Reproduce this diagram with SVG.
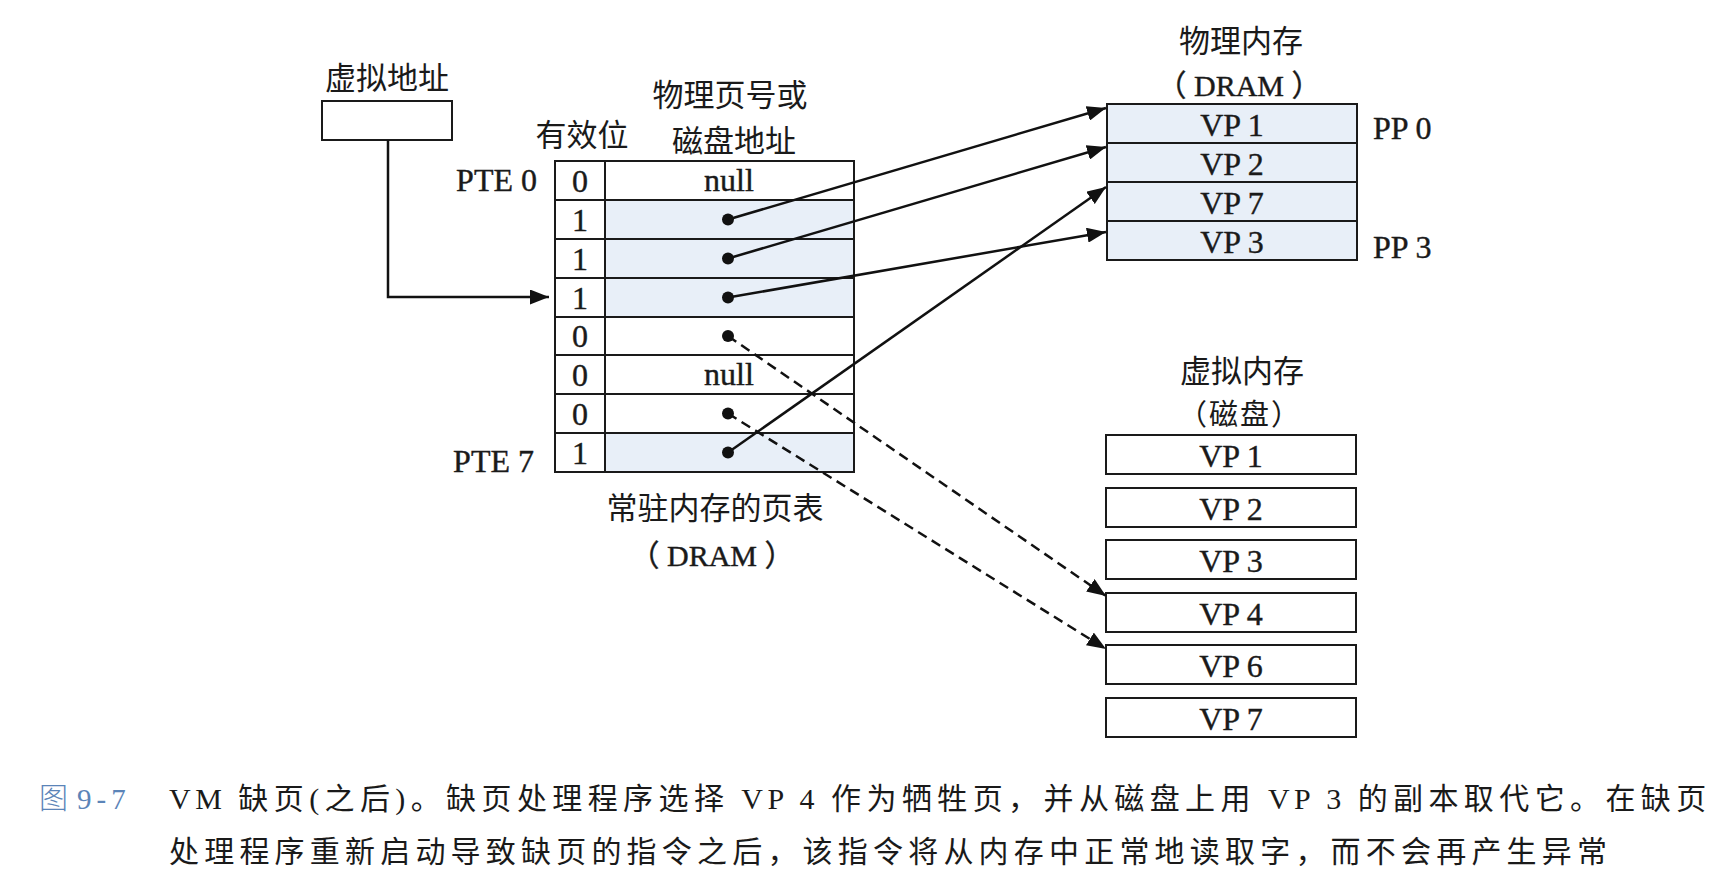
<svg xmlns="http://www.w3.org/2000/svg" width="1736" height="878" viewBox="0 0 1736 878">
<style>
  .bg{fill:#ffffff}
  .box{fill:#ffffff;stroke:#1a1a1a;stroke-width:2}
  .shade{fill:#e8eff8;stroke:none}
  .pbox{fill:#e8eff8;stroke:#1a1a1a;stroke-width:2}
  .grid{stroke:#1a1a1a;stroke-width:2;fill:none}
  .cjk{font-family:"Noto Sans CJK SC","Noto Sans CJK JP",sans-serif;font-size:31px;fill:#1a1a1a}
  .lat{font-family:"Liberation Serif","Noto Sans CJK SC",serif;font-size:32px;fill:#1a1a1a;stroke:#1a1a1a;stroke-width:0.4}
  .mid{text-anchor:middle}
  .end{text-anchor:end}
  .cap{font-family:"Liberation Serif","Noto Sans CJK SC",serif;font-size:30px;fill:#1a1a1a;letter-spacing:5.4px}
  .capl{letter-spacing:4.5px}
  .capn{font-family:"Liberation Serif","Noto Sans CJK SC",serif;font-size:29px;fill:#5b84b8}
  .conn{stroke:#111;stroke-width:2.5;fill:none}
  .dash{stroke:#111;stroke-width:2.5;fill:none;stroke-dasharray:10 6}
  .dot{fill:#111}
</style>
<defs>
  <marker id="ah" markerUnits="userSpaceOnUse" markerWidth="20" markerHeight="15" refX="19" refY="7.5" orient="auto">
    <path d="M0,0 L19,7.5 L0,15 z" fill="#111"/>
  </marker>
</defs>
<rect class="bg" x="0" y="0" width="1736" height="878"/>

<g id="virtual-address">
  <text class="cjk mid" x="387" y="89">虚拟地址</text>
  <rect class="box" x="322" y="101" width="130" height="39"/>
</g>

<g id="page-table">
  <text class="cjk mid" x="582" y="146">有效位</text>
  <text class="cjk mid" x="730" y="106">物理页号或</text>
  <text class="cjk mid" x="734" y="152">磁盘地址</text>
  <rect class="shade" x="605" y="200" width="249" height="117"/>
  <rect class="shade" x="605" y="433" width="249" height="39"/>
  <rect class="grid" x="555" y="161" width="299" height="311"/>
  <path class="grid" d="M605,161 V472 M555,200 H854 M555,239 H854 M555,278 H854 M555,317 H854 M555,355 H854 M555,394 H854 M555,433 H854"/>
  <text class="lat end" x="537" y="191">PTE 0</text>
  <text class="lat end" x="534" y="472">PTE 7</text>
  <text class="lat mid" x="580" y="192">0</text>
  <text class="lat mid" x="580" y="231">1</text>
  <text class="lat mid" x="580" y="270">1</text>
  <text class="lat mid" x="580" y="309">1</text>
  <text class="lat mid" x="580" y="347">0</text>
  <text class="lat mid" x="580" y="386">0</text>
  <text class="lat mid" x="580" y="425">0</text>
  <text class="lat mid" x="580" y="464">1</text>
  <text class="lat mid" x="729" y="191">null</text>
  <text class="lat mid" x="729" y="385">null</text>
  <circle class="dot" cx="728" cy="219.5" r="6"/>
  <circle class="dot" cx="728" cy="258.5" r="6"/>
  <circle class="dot" cx="728" cy="297.5" r="6"/>
  <circle class="dot" cx="728" cy="336" r="6"/>
  <circle class="dot" cx="728" cy="413.5" r="6"/>
  <circle class="dot" cx="728" cy="452.5" r="6"/>
  <text class="cjk mid" x="715" y="519">常驻内存的页表</text>
  <text class="lat mid" x="712" y="566" style="font-size:30px">（ DRAM ）</text>
</g>

<g id="physical-memory">
  <text class="cjk mid" x="1241" y="52">物理内存</text>
  <text class="lat mid" x="1239" y="96" style="font-size:30px">（ DRAM ）</text>
  <rect class="pbox" x="1107" y="104" width="250" height="39"/>
  <rect class="pbox" x="1107" y="143" width="250" height="39"/>
  <rect class="pbox" x="1107" y="182" width="250" height="39"/>
  <rect class="pbox" x="1107" y="221" width="250" height="39"/>
  <text class="lat mid" x="1232" y="136">VP 1</text>
  <text class="lat mid" x="1232" y="175">VP 2</text>
  <text class="lat mid" x="1232" y="214">VP 7</text>
  <text class="lat mid" x="1232" y="253">VP 3</text>
  <text class="lat" x="1373" y="139">PP 0</text>
  <text class="lat" x="1373" y="258">PP 3</text>
</g>

<g id="virtual-memory">
  <text class="cjk mid" x="1242" y="382">虚拟内存</text>
  <text class="cjk mid" x="1240" y="425" style="font-size:29px;letter-spacing:2px">（磁盘）</text>
  <rect class="box" x="1106" y="435" width="250" height="39"/>
  <rect class="box" x="1106" y="488" width="250" height="39"/>
  <rect class="box" x="1106" y="540" width="250" height="39"/>
  <rect class="box" x="1106" y="593" width="250" height="39"/>
  <rect class="box" x="1106" y="645" width="250" height="39"/>
  <rect class="box" x="1106" y="698" width="250" height="39"/>
  <text class="lat mid" x="1231" y="467">VP 1</text>
  <text class="lat mid" x="1231" y="520">VP 2</text>
  <text class="lat mid" x="1231" y="572">VP 3</text>
  <text class="lat mid" x="1231" y="625">VP 4</text>
  <text class="lat mid" x="1231" y="677">VP 6</text>
  <text class="lat mid" x="1231" y="730">VP 7</text>
</g>

<g id="connectors">
  <path class="conn" d="M388,140 V297 H549" marker-end="url(#ah)"/>
  <line class="conn" x1="728" y1="219.5" x2="1106" y2="108" marker-end="url(#ah)"/>
  <line class="conn" x1="728" y1="258.5" x2="1106" y2="147" marker-end="url(#ah)"/>
  <line class="conn" x1="728" y1="297.5" x2="1106" y2="232" marker-end="url(#ah)"/>
  <line class="conn" x1="728" y1="452.5" x2="1106" y2="187" marker-end="url(#ah)"/>
  <line class="dash" x1="728" y1="336" x2="1106" y2="596" marker-end="url(#ah)"/>
  <line class="dash" x1="728" y1="413.5" x2="1106" y2="649" marker-end="url(#ah)"/>
</g>

<g id="caption">
  <text class="capn" x="39" y="809" style="font-family:'Noto Sans CJK SC',sans-serif;font-weight:300">图</text>
  <text class="capn" x="77" y="809" style="letter-spacing:5px">9-7</text>
  <text class="cap" x="169" y="809"><tspan class="capl">VM </tspan>缺页(之后)。缺页处理程序选择<tspan class="capl"> VP 4 </tspan>作为牺牲页，并从磁盘上用<tspan class="capl"> VP 3 </tspan>的副本取代它。在缺页</text>
  <text class="cap" x="169" y="862" style="letter-spacing:5.2px">处理程序重新启动导致缺页的指令之后，该指令将从内存中正常地读取字，而不会再产生异常</text>
</g>
</svg>
